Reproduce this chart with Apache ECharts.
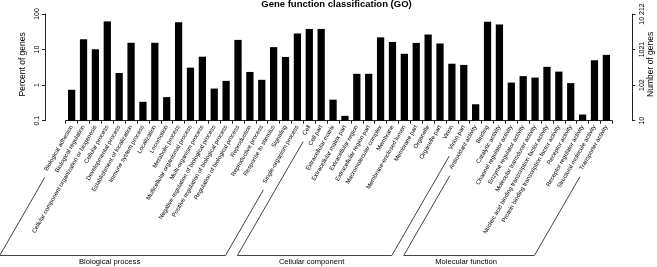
<!DOCTYPE html>
<html><head><meta charset="utf-8">
<script src="https://cdn.jsdelivr.net/npm/echarts@6/dist/echarts.min.js"></script>
<style>html,body{margin:0;padding:0;background:#fff}#c{width:657px;height:267px}</style>
</head><body><div id="c"></div>
<script>
const categories = [
  "Biological adhesion","Biological regulation","Cellular component organization or biogenesis","Cellular process",
  "Developmental process","Establishment of localization","Immune system process","Localization","Locomotion",
  "Metabolic process","Multicellular organismal process","Multi-organism process",
  "Negative regulation of biological process","Positive regulation of biological process",
  "Regulation of biological process","Reproduction","Reproductive process","Response to stimulus","Signaling",
  "Single-organism process",
  "Cell","Cell part","Extracellular matrix","Extracellular matrix part","Extracellular region",
  "Extracellular region part","Macromolecular complex","Membrane","Membrane-enclosed lumen","Membrane part",
  "Organelle","Organelle part","Virion","Virion part",
  "Antioxidant activity","Binding","Catalytic activity","Channel regulator activity","Enzyme regulator activity",
  "Molecular transducer activity","Nucleic acid binding transcription factor activity",
  "Protein binding transcription factor activity","Receptor activity","Receptor regulator activity",
  "Structural molecule activity","Transporter activity"
];
const percentValues = [
  0.74, 19.5, 10.2, 62, 2.2, 15.5, 0.34, 15.5, 0.46, 59, 3.1, 6.3, 0.8, 1.32, 18.7, 2.35, 1.41, 11.7, 6.2, 28.5,
  38, 38, 0.39, 0.137, 2.08, 2.08, 22, 16.4, 7.6, 15.4, 26.5, 14.8, 4.0, 3.7,
  0.29, 61, 51, 1.18, 1.79, 1.63, 3.27, 2.4, 1.14, 0.149, 5.0, 7.1
];
const groupNames = ["Biological process", "Cellular component", "Molecular function"];
const groupSizes = [20, 14, 12];
const tickValues = [0.1, 1, 10, 100];
const leftTickLabels = ["0.1", "1", "10", "100"];
const rightTickLabels = ["10", "102", "1021", "10 212"];
const leftAxisName = "Percent of genes";
const rightAxisName = "Number of genes";
const titleText = "Gene function classification (GO)";

const FONT = '"Liberation Sans", Arial, Helvetica, sans-serif';
const INK = '#222';
const LABEL_MARGIN = 5;
const chart = echarts.init(document.getElementById('c'), null, {renderer: 'canvas'});

function yAxisDef(pos, offset) {
  return {
    type: 'log', logBase: 10, min: 0.1, max: 100, startValue: 0.1, position: pos, offset: offset,
    axisLine: {show: true, lineStyle: {color: INK, width: 1}},
    axisTick: {show: true, length: 3, lineStyle: {color: INK}},
    axisLabel: {show: false},
    splitLine: {show: false}, minorTick: {show: false}
  };
}

chart.setOption({
  animation: false,
  backgroundColor: '#fff',
  grid: {left: 65.7, right: 44.7, top: 14, bottom: 146.3, containLabel: false},
  xAxis: {
    type: 'category', data: categories, boundaryGap: true,
    axisLine: {show: true, lineStyle: {color: INK, width: 1}},
    axisTick: {show: true, length: 3, lineStyle: {color: INK}},
    axisLabel: {interval: 0, rotate: 60, fontSize: 6, fontFamily: FONT, color: '#000', margin: LABEL_MARGIN}
  },
  yAxis: [yAxisDef('left', 20.7), yAxisDef('right', 20)],
  series: [{
    type: 'bar', yAxisIndex: 0, data: percentValues, barWidth: '61%',
    itemStyle: {color: '#000'}
  }]
});

function vText(x, y, text, size) {
  return {
    type: 'text', x: x, y: y, rotation: Math.PI / 2, silent: true,
    style: {text: text, font: size + 'px ' + FONT, fill: '#000', textAlign: 'center', textVerticalAlign: 'middle'}
  };
}

function drawDecor() {
  const rot = 60 * Math.PI / 180;
  const ux = -Math.cos(rot), uy = Math.sin(rot);
  const ctx = document.createElement('canvas').getContext('2d');
  ctx.font = '6px ' + FONT;
  const axisY = chart.convertToPixel({yAxisIndex: 0}, 0.1);
  const topY = chart.convertToPixel({yAxisIndex: 0}, 100);
  const midY = (axisY + topY) / 2 - 3;
  const anchorY = axisY + LABEL_MARGIN;
  const baseY = 255.5;
  const shift = 3;
  const elements = [{
    type: 'text', x: 336.5, y: 4.7, silent: true,
    style: {text: titleText, font: 'bold 9.5px ' + FONT, fill: '#000', textAlign: 'center', textVerticalAlign: 'middle'}
  }];
  tickValues.forEach(function (v, i) {
    const y = chart.convertToPixel({yAxisIndex: 0}, v);
    elements.push(vText(37.3, y, leftTickLabels[i], 7));
    elements.push(vText(641.7, y, rightTickLabels[i], 7));
  });
  elements.push(vText(22.7, midY, leftAxisName, 8.5));
  elements.push(vText(651, midY, rightAxisName, 8.5));

  let start = 0;
  groupSizes.forEach(function (n, g) {
    const ends = [start, start + n - 1].map(function (i) {
      const x0 = chart.convertToPixel({xAxisIndex: 0}, categories[i]);
      const d = ctx.measureText(categories[i]).width + 8;
      const tx = x0 + ux * d + shift, ty = anchorY + uy * d;
      const bx = tx + ux * (baseY - ty) / uy;
      return {tx: tx, ty: ty, bx: bx};
    });
    const L = ends[0], R = ends[1];
    elements.push({
      type: 'polyline', silent: true,
      shape: {points: [[L.tx, L.ty], [L.bx, baseY], [R.bx, baseY], [R.tx, R.ty]]},
      style: {stroke: '#444', lineWidth: 1, fill: null}
    });
    elements.push({
      type: 'text', x: (L.bx + R.bx) / 2 - 3, y: 262, silent: true,
      style: {text: groupNames[g], font: '7.6px ' + FONT, fill: '#000', textAlign: 'center', textVerticalAlign: 'middle'}
    });
    start += n;
  });
  chart.setOption({graphic: elements});
}
drawDecor();
</script>
</body></html>
